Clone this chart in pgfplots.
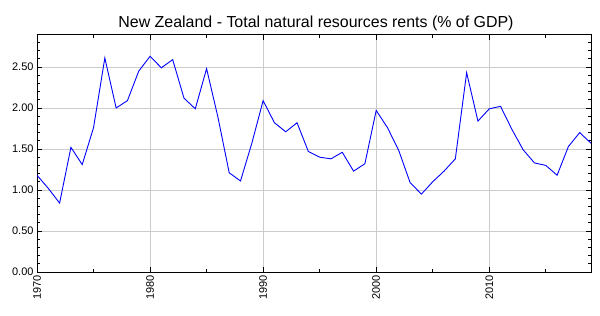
\documentclass[border=0pt]{standalone}
\usepackage{pgfplots}
\pgfplotsset{compat=1.18}
\usepackage{fontspec}
\setmainfont{Liberation Sans}
\begin{document}
\begin{tikzpicture}[x=1bp,y=1bp]
\path[use as bounding box] (0,0) rectangle (600,315);
\node[font=\fontsize{16}{19}\selectfont, anchor=base] at (316,288) {New Zealand - Total natural resources rents (\% of GDP)};
\begin{axis}[
  at={(37bp,43bp)}, anchor=south west,
  scale only axis, width=554bp, height=237bp,
  xmin=1970, xmax=2019, ymin=0, ymax=2.89,
  xtick={1970,1980,1990,2000,2010},
  minor xtick={1975,1985,1995,2005,2015},
  ytick={0,0.5,1,1.5,2,2.5},
  minor ytick={0.1,0.2,0.3,0.4,0.6,0.7,0.8,0.9,1.1,1.2,1.3,1.4,1.6,1.7,1.8,1.9,2.1,2.2,2.3,2.4,2.6,2.7,2.8},
  xmajorgrids, ymajorgrids,
  major grid style={draw=black!20, line width=0.8bp},
  axis line style={line width=1bp},
  tick style={black, line width=0.8bp},
  major tick length=5bp, minor tick length=3bp,
  tick align=inside,
  xticklabel style={rotate=90, anchor=east, font=\fontsize{11}{12}\selectfont},
  yticklabel style={font=\fontsize{11}{12}\selectfont, /pgf/number format/.cd, fixed, fixed zerofill, precision=2},
  /pgf/number format/assume math mode=true,
  xticklabel={\pgfmathprintnumber[1000 sep={}]{\tick}},
]
\addplot[blue, line width=0.9bp, mark=none] coordinates {
(1970,1.18) (1971,1.02) (1972,0.84) (1973,1.52) (1974,1.31) (1975,1.76)
(1976,2.61) (1977,2.00) (1978,2.09) (1979,2.45) (1980,2.63) (1981,2.49)
(1982,2.59) (1983,2.12) (1984,1.99) (1985,2.48) (1986,1.89) (1987,1.21)
(1988,1.11) (1989,1.57) (1990,2.09) (1991,1.82) (1992,1.71) (1993,1.82)
(1994,1.47) (1995,1.40) (1996,1.38) (1997,1.46) (1998,1.23) (1999,1.32)
(2000,1.97) (2001,1.76) (2002,1.48) (2003,1.09) (2004,0.95) (2005,1.10)
(2006,1.23) (2007,1.38) (2008,2.43) (2009,1.84) (2010,1.99) (2011,2.02)
(2012,1.74) (2013,1.49) (2014,1.33) (2015,1.30) (2016,1.18) (2017,1.53)
(2018,1.70) (2019,1.57)
};
\end{axis}
\end{tikzpicture}
\end{document}
